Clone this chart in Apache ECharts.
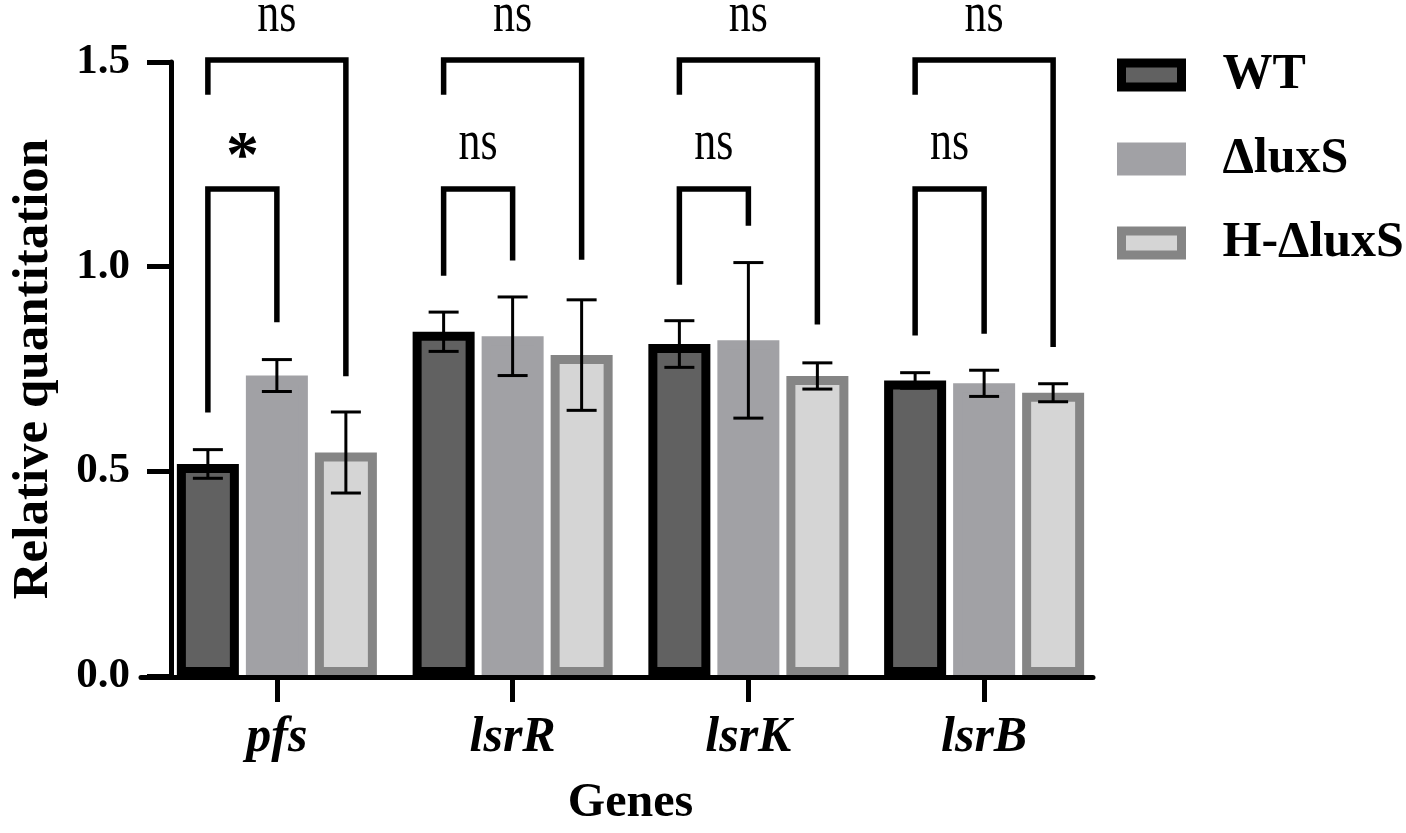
<!DOCTYPE html>
<html>
<head>
<meta charset="utf-8">
<script src="https://cdn.jsdelivr.net/npm/echarts@6/dist/echarts.min.js"></script>
<style>
  html, body { margin: 0; padding: 0; background: #fff; }
  #chart { width: 1406px; height: 833px; }
</style>
</head>
<body>
<div id="chart"></div>
<script>
// genes on the x axis, strains in the legend
var genes = ['pfs', 'lsrR', 'lsrK', 'lsrB'];
var strains = ['WT', 'ΔluxS', 'H-ΔluxS'];

// relative quantitation (mean) and error per strain
var wtMean = [0.518, 0.841, 0.811, 0.722];
var wtErr = [0.035, 0.048, 0.057, 0.019];
var luxsMean = [0.734, 0.830, 0.820, 0.715];
var luxsErr = [0.039, 0.096, 0.190, 0.032];
var hLuxsMean = [0.546, 0.784, 0.733, 0.692];
var hLuxsErr = [0.099, 0.135, 0.032, 0.022];

// significance brackets: WT vs ΔluxS (inner) and WT vs H-ΔluxS (outer)
var innerTop = 1.19;
var outerTop = 1.505;
var innerLeftEnd = [0.644, 0.978, 0.956, 0.832];
var innerRightEnd = [0.864, 1.015, 1.10, 0.836];
var outerLeftEnd = [1.42, 1.42, 1.42, 1.42];
var outerRightEnd = [0.732, 1.017, 0.859, 0.804];
var innerLabel = ['*', 'ns', 'ns', 'ns'];
var outerLabel = ['ns', 'ns', 'ns', 'ns'];
var innerLabelY = 1.298;
var outerLabelY = 1.611;

var yTicks = ['0.0', '0.5', '1.0', '1.5'];

var FONT = '"Liberation Serif", "Times New Roman", serif';
var BAR_W = 62;
var STEP = 69; // distance between neighbouring bars in a group
var offsets = [-STEP, 0, STEP];

var myChart = echarts.init(document.getElementById('chart'));

function errorSeries(mean, err, idx) {
    return {
        type: 'custom',
        xAxisIndex: 0,
        yAxisIndex: 0,
        z: 5,
        silent: true,
        data: genes.map(function (g, i) { return [i, mean[i], err[i]]; }),
        renderItem: function (params, api) {
            var c = api.value(0);
            var m = api.value(1);
            var e = api.value(2);
            var x = api.coord([c, m])[0] + offsets[idx];
            var hi = api.coord([c, m + e])[1];
            var lo = api.coord([c, m - e])[1];
            var st = { stroke: '#000', lineWidth: 3 };
            return {
                type: 'group',
                children: [
                    { type: 'line', shape: { x1: x, y1: hi, x2: x, y2: lo }, style: st },
                    { type: 'line', shape: { x1: x - 15, y1: hi, x2: x + 15, y2: hi }, style: st },
                    { type: 'line', shape: { x1: x - 15, y1: lo, x2: x + 15, y2: lo }, style: st }
                ]
            };
        }
    };
}

function nsText(x, y, txt) {
    return {
        type: 'text',
        x: x,
        y: y,
        scaleY: 1.28,
        style: {
            text: txt,
            fontFamily: FONT,
            fontSize: 44,
            fill: '#000',
            align: 'center',
            verticalAlign: 'middle'
        }
    };
}

var bracketSeries = {
    type: 'custom',
    xAxisIndex: 0,
    yAxisIndex: 0,
    z: 6,
    silent: true,
    clip: false,
    data: genes.map(function (g, i) {
        return [i, innerLeftEnd[i], innerRightEnd[i], outerLeftEnd[i], outerRightEnd[i]];
    }),
    renderItem: function (params, api) {
        var c = api.value(0);
        var cx = api.coord([c, 0])[0];
        var xa = cx + offsets[0], xb = cx + offsets[1], xc = cx + offsets[2];
        var y = function (v) { return api.coord([c, v])[1]; };
        var st = { stroke: '#000', lineWidth: 5.5, fill: null, lineJoin: 'miter', lineCap: 'butt' };
        var inner = innerLabel[params.dataIndex];
        var innerEl = inner === '*' ? {
            type: 'text',
            x: (xa + xb) / 2,
            y: y(innerLabelY) + 14,
            style: {
                text: inner,
                fontFamily: FONT,
                fontSize: 66,
                fontWeight: 'bold',
                fill: '#000',
                align: 'center',
                verticalAlign: 'middle'
            }
        } : nsText((xa + xb) / 2, y(innerLabelY), inner);
        return {
            type: 'group',
            children: [
                {
                    type: 'polyline',
                    shape: { points: [[xa, y(api.value(1))], [xa, y(innerTop)], [xb, y(innerTop)], [xb, y(api.value(2))]] },
                    style: st
                },
                {
                    type: 'polyline',
                    shape: { points: [[xa, y(api.value(3))], [xa, y(outerTop)], [xc, y(outerTop)], [xc, y(api.value(4))]] },
                    style: st
                },
                innerEl,
                nsText(xb, y(outerLabelY), outerLabel[params.dataIndex])
            ]
        };
    }
};

var option = {
    backgroundColor: '#fff',
    animation: false,
    textStyle: { fontFamily: FONT },
    legend: {
        orient: 'vertical',
        left: 1112,
        top: 45,
        icon: 'rect',
        itemWidth: 60,
        itemHeight: 24,
        itemGap: 34,
        itemStyle: { borderWidth: 9 },
        textStyle: {
            fontFamily: FONT,
            fontSize: 50,
            fontWeight: 'bold',
            color: '#000',
            lineHeight: 50,
            padding: [0, 0, 0, 36]
        },
        data: strains
    },
    grid: [
        { left: 153, right: 304, top: 62, bottom: 156 },
        { left: 141, right: 313, top: 62, bottom: 156 }
    ],
    xAxis: [
        {
            type: 'category',
            gridIndex: 0,
            data: genes,
            axisLine: { show: false },
            axisTick: { show: true, alignWithLabel: true, length: 26, lineStyle: { color: '#000', width: 5 } },
            axisLabel: {
                margin: 37,
                color: '#000',
                fontFamily: FONT,
                fontSize: 50,
                fontWeight: 'bold',
                fontStyle: 'italic'
            },
            name: 'Genes',
            nameLocation: 'middle',
            nameGap: 104,
            nameTextStyle: { color: '#000', fontFamily: FONT, fontSize: 48, fontWeight: 'bold' }
        },
        {
            type: 'value',
            gridIndex: 1,
            z: 5,
            axisLine: { show: true, onZero: false, lineStyle: { color: '#000', width: 5 } },
            axisTick: { show: false },
            axisLabel: { show: false },
            splitLine: { show: false }
        }
    ],
    yAxis: [
        {
            type: 'value',
            gridIndex: 0,
            min: 0,
            max: 1.5,
            interval: 0.5,
            offset: -12,
            axisLine: { show: true, lineStyle: { color: '#000', width: 5 } },
            axisTick: { show: true, length: 24, lineStyle: { color: '#000', width: 5 } },
            splitLine: { show: false },
            axisLabel: {
                margin: 41,
                color: '#000',
                fontFamily: FONT,
                fontSize: 43,
                fontWeight: 'bold',
                formatter: function (v) { return yTicks[Math.round(v / 0.5)]; }
            },
            name: 'Relative quantitation',
            nameLocation: 'middle',
            nameRotate: 90,
            nameGap: 112,
            nameTextStyle: { color: '#000', fontFamily: FONT, fontSize: 51, fontWeight: 'bold' }
        },
        { type: 'value', gridIndex: 1, show: false }
    ],
    series: [
        {
            name: strains[0],
            type: 'bar',
            barWidth: BAR_W,
            barGap: '11.3%',
            data: wtMean,
            itemStyle: { color: '#616161', borderColor: '#000', borderWidth: 9 }
        },
        {
            name: strains[1],
            type: 'bar',
            barWidth: BAR_W,
            barGap: '11.3%',
            data: luxsMean,
            itemStyle: { color: '#a1a1a5', borderColor: '#a1a1a5', borderWidth: 9 }
        },
        {
            name: strains[2],
            type: 'bar',
            barWidth: BAR_W,
            barGap: '11.3%',
            data: hLuxsMean,
            itemStyle: { color: '#d5d5d5', borderColor: '#858585', borderWidth: 9 }
        },
        errorSeries(wtMean, wtErr, 0),
        errorSeries(luxsMean, luxsErr, 1),
        errorSeries(hLuxsMean, hLuxsErr, 2),
        bracketSeries
    ]
};

myChart.setOption(option);
</script>
</body>
</html>
